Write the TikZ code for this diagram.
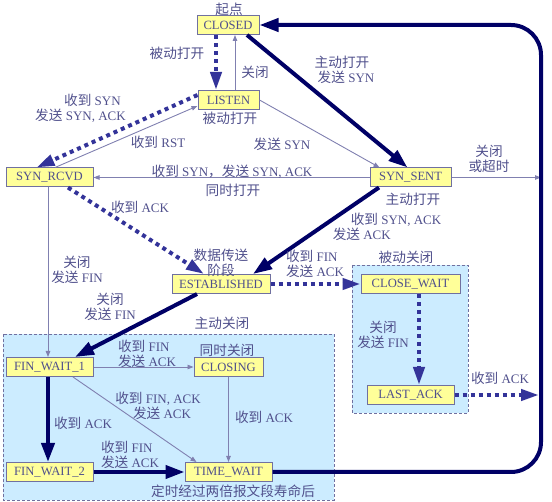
\documentclass[tikz,border=0pt]{standalone}
\usepackage{fontspec}
\setmainfont{Liberation Serif}
\newfontfamily\cjk{Noto Sans CJK SC}[Scale=1.05]
\usetikzlibrary{arrows.meta}

\definecolor{stateyellow}{RGB}{255,255,153}
\definecolor{stateline}{RGB}{112,112,160}
\definecolor{tcpnavy}{RGB}{0,0,102}
\definecolor{dotblue}{RGB}{51,51,153}
\definecolor{thinline}{RGB}{128,128,176}
\definecolor{labeltext}{RGB}{80,80,140}
\definecolor{areablue}{RGB}{204,236,255}
\newcommand\zh[1]{{\cjk #1}}

\begin{document}
\begin{tikzpicture}[x=1pt,y=-1pt,>=Triangle,
  state/.style={draw=stateline,fill=stateyellow,line width=1pt,minimum height=19pt,inner sep=0pt,text=labeltext,font=\fontsize{12.6}{14}\selectfont},
  lbl/.style={text=labeltext,align=center,inner sep=0pt,font=\fontsize{13}{14.5}\selectfont},
  thin edge/.style={->,draw=thinline,line width=0.9pt,>={Triangle[length=6pt,width=4.5pt]}},
  thick edge/.style={->,draw=tcpnavy,line width=4pt,>={Triangle[length=19pt,width=13pt]}},
  dotted edge/.style={->,draw=dotblue,line width=4pt,dash pattern=on 4pt off 4pt,>={Triangle[length=18pt,width=11pt]}},
  area/.style={draw=stateline,fill=areablue,dash pattern=on 3pt off 2pt,line width=0.9pt}]

  \useasboundingbox (0,0) rectangle (552,502);

  % close areas
  \draw[area] (3,334) rectangle (334,500);
  \draw[area] (352,265) rectangle (468,413);

  \node[state, minimum width=62pt] (closed) at (228,25) {CLOSED};
  \node[state, minimum width=61pt] (listen) at (228.5,100) {LISTEN};
  \node[state, minimum width=87pt] (syn_rcvd) at (49.5,177.5) {SYN\_RCVD};
  \node[state, minimum width=81pt] (syn_sent) at (410.5,177.5) {SYN\_SENT};
  \node[state, minimum width=98pt] (established) at (221,284) {ESTABLISHED};
  \node[state, minimum width=99pt] (close_wait) at (410.5,284) {CLOSE\_WAIT};
  \node[state, minimum width=87pt] (last_ack) at (410.5,395) {LAST\_ACK};
  \node[state, minimum width=87pt] (fin_wait_1) at (49.5,367) {FIN\_WAIT\_1};
  \node[state, minimum width=69pt] (closing) at (228.5,367) {CLOSING};
  \node[state, minimum width=87pt] (fin_wait_2) at (49.5,472) {FIN\_WAIT\_2};
  \node[state, minimum width=87pt] (time_wait) at (228.5,472) {TIME\_WAIT};
  \coordinate (loop) at (541,250);

  % opening
  \draw[dotted edge] ([xshift=-12pt]closed.south) to ([xshift=-12.5pt]listen.north);
  \draw[thin edge] ([xshift=6.5pt]listen.north) to ([xshift=7pt]closed.south);
  \draw[thick edge] ([xshift=19pt]closed.south) to ([xshift=-3pt]syn_sent.north);
  \draw[thin edge] (listen.east) to ([xshift=-31pt]syn_sent.north);
  \draw[dotted edge] ([yshift=5pt]listen.west) to ([xshift=-13pt]syn_rcvd.north);
  \draw[thin edge] ([xshift=5.5pt]syn_rcvd.north) to ([yshift=-6pt]listen.west);
  \draw[thin edge] (syn_sent.west) to (syn_rcvd.east);
  \draw[thin edge] (syn_sent.east) to (syn_sent.east -| loop);
  \draw[thick edge] ([xshift=-31.5pt]syn_sent.south) to ([xshift=32pt]established.north);
  \draw[dotted edge] ([xshift=18.5pt]syn_rcvd.south) to ([xshift=-17pt]established.north);

  % closing
  \draw[dotted edge] (established.east) to (close_wait.west);
  \draw[dotted edge] ([xshift=8.5pt]close_wait.south) to ([xshift=8.5pt]last_ack.north);
  \draw[dotted edge] (last_ack.east) to ([xshift=-2pt]last_ack.east -| loop);
  \draw[thin edge] ([xshift=-1.5pt]syn_rcvd.south) to ([xshift=-1.5pt]fin_wait_1.north);
  \draw[thick edge] ([xshift=-24pt]established.south) to ([xshift=25.5pt]fin_wait_1.north);
  \draw[thin edge] (fin_wait_1.east) to (closing.west);
  \draw[thin edge] ([xshift=23.5pt]fin_wait_1.south) to ([xshift=-32pt]time_wait.north);
  \draw[thick edge] ([xshift=-1.5pt]fin_wait_1.south) to ([xshift=-1.5pt]fin_wait_2.north);
  \draw[thin edge] (closing.south) to (time_wait.north);
  \draw[thick edge] (fin_wait_2.east) to (time_wait.west);
  \draw[thick edge,rounded corners=30pt] (time_wait.east) -| (loop) |- (closed.east);

  % labels
  \node[lbl] (l_start) at (229,9) {\zh{起点}};
  \node[lbl] (l_popen) at (177,53) {\zh{被动打开}};
  \node[lbl] (l_lclose) at (255,72) {\zh{关闭}};
  \node[lbl] (l_aopen) at (342,70) {\zh{主动打开}\\\hspace*{8pt}\zh{发送} SYN};
  \node[lbl,align=right] (l_rsyn) at (80.5,108.5) {\zh{收到} SYN\hspace*{5pt}\\\zh{发送} SYN, ACK};
  \node[lbl] (l_popen2) at (230,118) {\zh{被动打开}};
  \node[lbl] (l_rst) at (158,142) {\zh{收到} RST};
  \node[lbl] (l_ssyn) at (282,144) {\zh{发送} SYN};
  \node[lbl] (l_simsyn) at (232,172) {\zh{收到} SYN\zh{，发送} SYN, ACK};
  \node[lbl] (l_simopen) at (233,190) {\zh{同时打开}};
  \node[lbl] (l_timeout) at (489,159) {\zh{关闭}\\\zh{或超时}};
  \node[lbl] (l_aopen2) at (413,199) {\zh{主动打开}};
  \node[lbl,align=left] (l_synack) at (387,227) {\hspace*{18pt}\zh{收到} SYN, ACK\\\zh{发送} ACK};
  \node[lbl] (l_rack) at (140,207) {\zh{收到} ACK};
  \node[lbl] (l_data) at (221,263) {\zh{数据传送}\\\zh{阶段}};
  \node[lbl,align=left] (l_rfin) at (315,264) {\zh{收到} FIN\\\zh{发送} ACK};
  \node[lbl] (l_pclose) at (406,257) {\zh{被动关闭}};
  \node[lbl] (l_rcvdclose) at (77,270) {\zh{关闭}\\\zh{发送} FIN};
  \node[lbl] (l_estclose) at (110,307) {\zh{关闭}\\\zh{发送} FIN};
  \node[lbl] (l_aclose) at (222,323) {\zh{主动关闭}};
  \node[lbl,align=left] (l_fin1fin) at (147,354) {\zh{收到} FIN\\\zh{发送} ACK};
  \node[lbl] (l_simclose) at (227,350) {\zh{同时关闭}};
  \node[lbl] (l_finack) at (158,406) {\zh{收到} FIN, ACK\\\hspace*{8pt}\zh{发送} ACK};
  \node[lbl] (l_fin1ack) at (83,423) {\zh{收到} ACK};
  \node[lbl] (l_closingack) at (264,417) {\zh{收到} ACK};
  \node[lbl,align=left] (l_fin2fin) at (130,455) {\zh{收到} FIN\\\zh{发送} ACK};
  \node[lbl] (l_cwclose) at (383,335) {\zh{关闭}\\\zh{发送} FIN};
  \node[lbl] (l_lastack) at (500,378) {\zh{收到} ACK};
  \node[lbl] (l_2msl) at (233,491) {\zh{定时经过两倍报文段寿命后}};
\end{tikzpicture}
\end{document}
